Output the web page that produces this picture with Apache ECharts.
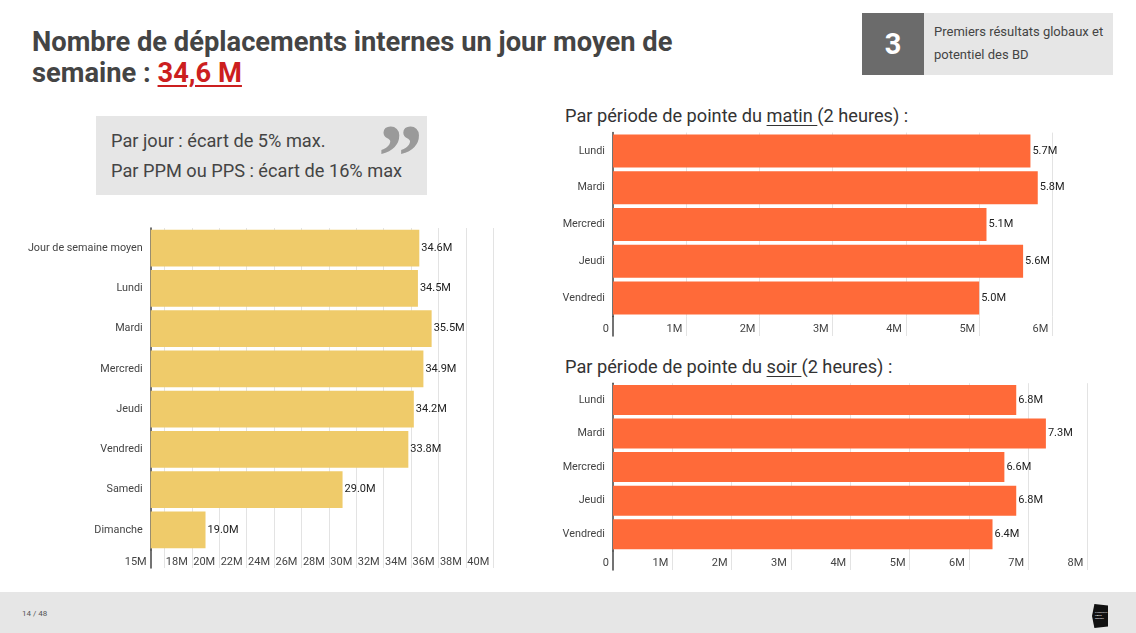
<!DOCTYPE html>
<html lang="fr">
<head>
<meta charset="utf-8">
<script src="https://cdn.jsdelivr.net/npm/echarts@6/dist/echarts.min.js"></script>
<style>
  html, body { margin: 0; padding: 0; background: #fff; }
  body { width: 1136px; height: 633px; position: relative; overflow: hidden; font-family: Roboto, "Noto Sans", Arial, sans-serif; }
  #chart { position: absolute; left: 0; top: 0; width: 1136px; height: 633px; z-index: 2; }
  .abs { position: absolute; }
  #title { left: 32px; top: 27px; font-size: 27.3px; font-weight: bold; line-height: 31px; color: #444; white-space: nowrap; }
  #title .red { color: #cc1f1f; text-decoration: underline; text-decoration-thickness: 2px; text-underline-offset: 3px; }
  #secNum { left: 862px; top: 13px; width: 62px; height: 62px; background: #6b6b6b; color: #fff; font-weight: bold; font-size: 29px; line-height: 62px; text-align: center; }
  #secBox { left: 924px; top: 13px; width: 189px; height: 62px; background: #e6e6e6; color: #444; font-size: 13px; line-height: 22.5px; box-sizing: border-box; padding: 8px 0 0 10px; }
  #quote { left: 96px; top: 116px; width: 331px; height: 79px; background: #e6e6e6; color: #444; font-size: 18.2px; line-height: 30px; box-sizing: border-box; padding: 10px 0 0 15px; white-space: nowrap; }
  #qmark { left: 378px; top: 112px; font-family: "Liberation Serif", serif; font-size: 90px; line-height: 90px; color: #9a9a9a; font-weight: bold; }
  .sub { left: 565px; font-size: 18.2px; line-height: 20px; color: #333; white-space: nowrap; }
  .sub u { text-decoration-thickness: 1px; text-underline-offset: 3px; }
  #footer { left: 0; top: 592px; width: 1136px; height: 41px; background: #e6e6e6; }
  #page { left: 22px; top: 609px; font-size: 8px; line-height: 10px; color: #555; }
  #logo { left: 1092px; top: 604px; width: 16px; height: 24px; background: #111; clip-path: polygon(15% 0, 100% 6%, 100% 94%, 15% 100%, 0 50%); color: #fff; font-size: 2.5px; line-height: 3px; padding: 7px 0 0 3px; box-sizing: border-box; }
</style>
</head>
<body>
<div id="title" class="abs">Nombre de déplacements internes un jour moyen de<br>semaine : <span class="red">34,6 M</span></div>
<div id="secNum" class="abs">3</div>
<div id="secBox" class="abs">Premiers résultats globaux et<br>potentiel des BD</div>
<div id="quote" class="abs">Par jour : écart de 5% max.<br>Par PPM ou PPS : écart de 16% max</div>
<div id="qmark" class="abs">”</div>
<div class="abs sub" style="top:106px;">Par période de pointe du <u>matin </u>(2 heures) :</div>
<div class="abs sub" style="top:357px;">Par période de pointe du <u>soir </u>(2 heures) :</div>
<div id="footer" class="abs"></div>
<div id="page" class="abs">14 / 48</div>
<div id="logo" class="abs">L'INSTITUT<br>PARIS<br>REGION</div>
<div id="chart"></div>
<script>
// ---- Data ----
const dayCategories = ['Jour de semaine moyen', 'Lundi', 'Mardi', 'Mercredi', 'Jeudi', 'Vendredi', 'Samedi', 'Dimanche'];
const dayValues = [34.6, 34.5, 35.5, 34.9, 34.2, 33.8, 29.0, 19.0];
const dayTickValues = [15, 18, 20, 22, 24, 26, 28, 30, 32, 34, 36, 38, 40];

const peakCategories = ['Lundi', 'Mardi', 'Mercredi', 'Jeudi', 'Vendredi'];
const morningValues = [5.7, 5.8, 5.1, 5.6, 5.0];
const eveningValues = [6.8, 7.3, 6.6, 6.8, 6.4];
const morningTickValues = [0, 1, 2, 3, 4, 5, 6];
const eveningTickValues = [0, 1, 2, 3, 4, 5, 6, 7, 8];

// ---- Layout / style ----
const AXIS_COLOR = '#444';
const GRID_COLOR = '#e3e3e3';
const FONT = 'Roboto';

const panels = [
  { cats: dayCategories, vals: dayValues, ticks: dayTickValues, min: 15, max: 40,
    left: 150.7, width: 342.6, top: 228, height: 322, extra: 18, color: '#efcb6a', gap: '9%',
    splitColors: ['rgba(0,0,0,0)', GRID_COLOR], labelMargin: 0 },
  { cats: peakCategories, vals: morningValues, ticks: morningTickValues, min: 0, max: 6,
    left: 613, width: 439.4, top: 132.6, height: 183.8, extra: 19.6, color: '#ff6a39', gap: '10%',
    splitColors: ['rgba(0,0,0,0)', GRID_COLOR, GRID_COLOR, GRID_COLOR, GRID_COLOR, GRID_COLOR, GRID_COLOR], labelMargin: 1.5 },
  { cats: peakCategories, vals: eveningValues, ticks: eveningTickValues, min: 0, max: 8,
    left: 613, width: 474.4, top: 383.2, height: 167.8, extra: 19, color: '#ff6a39', gap: '10.5%',
    splitColors: ['rgba(0,0,0,0)', GRID_COLOR, GRID_COLOR, GRID_COLOR, GRID_COLOR, GRID_COLOR, GRID_COLOR, GRID_COLOR, GRID_COLOR], labelMargin: 1.5 }
];

const grid = [], xAxis = [], yAxis = [], series = [];
panels.forEach(function (p) {
  const gA = grid.length;
  grid.push({ left: p.left, width: p.width, top: p.top, height: p.height, outerBoundsMode: 'none' });
  const gB = grid.length;
  grid.push({ left: p.left, width: p.width, top: p.top + p.height, height: p.extra, outerBoundsMode: 'none' });

  const split = { show: true, lineStyle: { color: p.splitColors, width: 1 } };
  const xA = xAxis.length;
  xAxis.push({ type: 'value', gridIndex: gA, min: p.min, max: p.max, interval: 1,
    axisLine: { show: false }, axisTick: { show: false }, axisLabel: { show: false }, splitLine: split });
  xAxis.push({ type: 'value', gridIndex: gB, min: p.min, max: p.max, interval: 1,
    axisLine: { show: false }, axisTick: { show: false }, splitLine: split,
    axisLabel: { show: true, inside: true, margin: p.labelMargin, align: 'right', padding: [0, 4, 0, 0],
      fontFamily: FONT, fontSize: 11, color: AXIS_COLOR,
      formatter: function (v) { return p.ticks.indexOf(v) >= 0 ? (v === 0 ? '0' : v + 'M') : ''; } } });

  const yA = yAxis.length;
  yAxis.push({ type: 'category', gridIndex: gA, inverse: true, data: p.cats,
    axisLine: { show: true, lineStyle: { color: AXIS_COLOR, width: 1.5 } }, axisTick: { show: false },
    axisLabel: { margin: 8, fontFamily: FONT, fontSize: 10.8, color: AXIS_COLOR }, splitLine: { show: false } });
  yAxis.push({ type: 'category', gridIndex: gB, data: [''],
    axisLine: { show: true, lineStyle: { color: AXIS_COLOR, width: 1.5 } }, axisTick: { show: false },
    axisLabel: { show: false }, splitLine: { show: false } });

  series.push({ type: 'bar', xAxisIndex: xA, yAxisIndex: yA, data: p.vals, barCategoryGap: p.gap,
    itemStyle: { color: p.color }, silent: true, animation: false,
    label: { show: true, position: 'right', distance: 2, fontFamily: FONT, fontSize: 11, color: '#222',
      formatter: function (d) { return d.value.toFixed(1) + 'M'; } } });
});

const chart = echarts.init(document.getElementById('chart'), null, { renderer: 'canvas' });
chart.setOption({ backgroundColor: 'transparent', animation: false, grid: grid, xAxis: xAxis, yAxis: yAxis, series: series });
</script>
</body>
</html>
